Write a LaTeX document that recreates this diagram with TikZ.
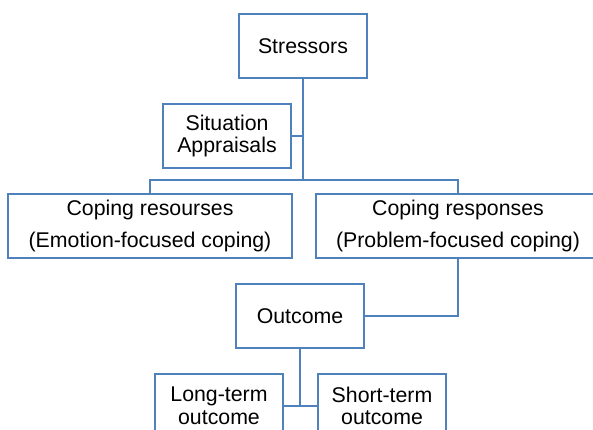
\documentclass[tikz,border=0pt]{standalone}
\usepackage{fontspec}
\setmainfont{Liberation Sans}
\definecolor{boxblue}{RGB}{79,129,189}
\begin{document}
\begin{tikzpicture}[x=1pt,y=-1pt,
  box/.style={draw=boxblue, line width=2.5pt, fill=white, inner sep=0pt,
    minimum width=128pt, minimum height=64pt, align=center,
    font=\fontsize{21.3}{22.5}\selectfont},
  wide/.style={box, minimum width=284pt, minimum height=64pt},
  link/.style={draw=boxblue, line width=2.5pt}]
\clip (0,0) rectangle (593,430);
\useasboundingbox (0,0) rectangle (593,430);
\node[box] (st) at (303,46) {Stressors};
\node[box] (sa) at (227,136) {Situation\\Appraisals};
\node[wide] (cr) at (150,226) {\raisebox{-2pt}{Coping resourses}\\[9pt]\raisebox{-2pt}{(Emotion-focused coping)}};
\node[wide] (cp) at (458,226) {\raisebox{-2pt}{Coping responses}\\[9pt]\raisebox{-2pt}{(Problem-focused coping)}};
\node[box] (out) at (300,316) {Outcome};
\node[box] (lt) at (219,406) {Long-term\\outcome};
\node[box] (sh) at (382,406) {Short-term\\outcome};
\coordinate (j1) at (303,180);
\path[link] (st.south) -- (j1);
\path[link] (sa.east) -- (sa.east -| st.south);
\path[link] (cr.north) |- (j1) -| (cp.north);
\path[link] (cp.south) |- (out.east);
\path[link] (out.south) -- (out.south |- lt.east);
\path[link] (lt.east) -- (sh.west);
\end{tikzpicture}
\end{document}
